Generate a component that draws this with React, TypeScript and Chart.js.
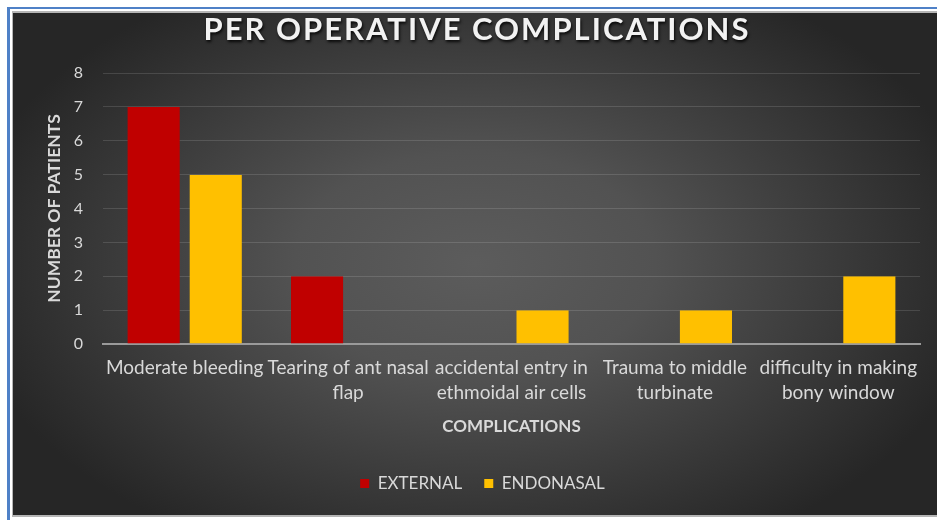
import { useEffect, useRef } from "react";
import { Chart, registerables } from "chart.js";

Chart.register(...registerables);

// Chart text
const chartTitle = "PER OPERATIVE COMPLICATIONS";
const yAxisTitle = "NUMBER OF PATIENTS";
const xAxisTitle = "COMPLICATIONS";

// Complication categories (wrapped the way they are printed under the axis)
const categories: string[][] = [
  ["Moderate bleeding"],
  ["Tearing of ant nasal", "flap"],
  ["accidental entry in", "ethmoidal air cells"],
  ["Trauma to middle", "turbinate"],
  ["difficulty in making", "bony window"],
];

// Patients per complication, by approach
const seriesNames = ["EXTERNAL", "ENDONASAL"];
const externalValues = [7, 2, 0, 0, 0];
const endonasalValues = [5, 0, 1, 1, 2];

// Value axis range
const yMin = 0;
const yMax = 8;
const yStep = 1;

const FONT = "Lato, 'Open Sans', sans-serif";
const TEXT = "#d9d9d9";

// Dark radial backdrop behind the whole chart
const backdrop = {
  id: "backdrop",
  beforeDraw(chart: any) {
    const { ctx, width, height } = chart;
    const cx = width * 0.5;
    const cy = height * 0.5;
    const k = 0.62;
    ctx.save();
    ctx.translate(cx, cy);
    ctx.scale(1, k);
    const g = ctx.createRadialGradient(0, 0, 0, 0, 0, width * 0.56);
    g.addColorStop(0, "#5c5c5c");
    g.addColorStop(0.35, "#525252");
    g.addColorStop(1, "#262626");
    ctx.fillStyle = g;
    ctx.fillRect(-cx, -cy / k, width, height / k);
    ctx.restore();
  },
};

// Nudge the legend row so it sits centred under the whole chart block
const legendNudge = {
  id: "legendNudge",
  afterLayout(chart: any) {
    const lg = chart.legend;
    if (!lg) return;
    lg.left += 16;
    lg.right += 16;
  },
};

// Spaced, shadowed heading across the top
const headline = {
  id: "headline",
  afterDraw(chart: any) {
    const { ctx, width } = chart;
    ctx.save();
    ctx.font = `bold 31px ${FONT}`;
    (ctx as any).letterSpacing = "2px";
    ctx.textAlign = "center";
    ctx.textBaseline = "alphabetic";
    ctx.shadowColor = "rgba(0,0,0,0.85)";
    ctx.shadowOffsetX = 1;
    ctx.shadowOffsetY = 2;
    ctx.shadowBlur = 3;
    ctx.fillStyle = "#f2f2f2";
    ctx.fillText(chartTitle, width / 2 + 2, 27);
    ctx.restore();
  },
};

export default function App() {
  const canvasRef = useRef<HTMLCanvasElement | null>(null);

  useEffect(() => {
    if (!canvasRef.current) return;
    const gap = { left: 5, right: 5, top: 0, bottom: 0 };
    const chart = new Chart(canvasRef.current, {
      type: "bar",
      data: {
        labels: categories,
        datasets: [
          {
            label: seriesNames[0],
            data: externalValues,
            backgroundColor: "#c00000",
            borderColor: "rgba(0,0,0,0)",
            borderWidth: gap,
            borderSkipped: false,
          },
          {
            label: seriesNames[1],
            data: endonasalValues,
            backgroundColor: "#ffc000",
            borderColor: "rgba(0,0,0,0)",
            borderWidth: gap,
            borderSkipped: false,
          },
        ],
      },
      options: {
        responsive: false,
        animation: false,
        devicePixelRatio: 1,
        layout: { padding: { top: 60, right: 17, left: 0, bottom: 13 } },
        datasets: {
          bar: { categoryPercentage: 0.76, barPercentage: 1 },
        },
        plugins: {
          title: { display: false },
          tooltip: { enabled: false },
          legend: {
            position: "bottom",
            labels: {
              color: TEXT,
              font: { family: FONT, size: 17 },
              boxWidth: 9,
              boxHeight: 9,
              padding: 22,
              generateLabels: (c: any) =>
                (Chart.defaults.plugins.legend.labels as any)
                  .generateLabels(c)
                  .map((l: any) => ({ ...l, lineWidth: 0, strokeStyle: "rgba(0,0,0,0)" })),
            },
          },
        },
        scales: {
          x: {
            grid: { display: false, drawTicks: false },
            border: { display: true, color: "#9a9a9a", width: 2 },
            ticks: {
              color: TEXT,
              font: { family: FONT, size: 19, lineHeight: 1.3 },
              padding: 12,
              maxRotation: 0,
              minRotation: 0,
              autoSkip: false,
            },
            title: {
              display: true,
              text: xAxisTitle,
              color: TEXT,
              font: { family: FONT, size: 17, weight: "bold" },
              padding: { top: 0, bottom: 16 },
            },
            afterFit: (s: any) => {
              s.height = 109;
            },
          },
          y: {
            min: yMin,
            max: yMax,
            grid: { color: "rgba(255,255,255,0.13)", lineWidth: 1, drawTicks: false },
            border: { display: false },
            ticks: {
              stepSize: yStep,
              color: TEXT,
              font: { family: FONT, size: 16 },
              padding: 20,
            },
            title: {
              display: true,
              text: yAxisTitle,
              color: TEXT,
              font: { family: FONT, size: 17.5, weight: "bold" },
              padding: { top: 31, bottom: 0 },
            },
            afterFit: (s: any) => {
              s.width = 90;
            },
          },
        },
      },
      plugins: [backdrop, legendNudge, headline],
    } as any);
    return () => chart.destroy();
  }, []);

  return (
    <div
      style={{
        position: "absolute",
        left: 7,
        top: 7,
        width: 930,
        height: 513,
        boxSizing: "border-box",
        borderTop: "2px solid #4f81c7",
        borderLeft: "3px solid #4f81c7",
        background: "#ffffff",
        overflow: "hidden",
      }}
    >
      <div
        style={{
          position: "absolute",
          left: 2,
          top: 2,
          borderTop: "2px solid #b5b5b5",
          borderLeft: "1px solid #b5b5b5",
          borderBottom: "2px solid #b5b5b5",
        }}
      >
        <canvas ref={canvasRef} width={924} height={502} style={{ display: "block" }} />
      </div>
    </div>
  );
}
